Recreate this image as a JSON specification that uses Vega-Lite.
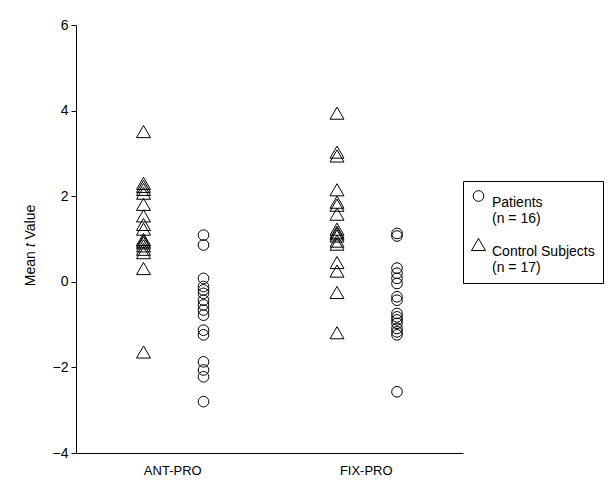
{
  "$schema": "https://vega.github.io/schema/vega-lite/v6.json",
  "width": 387,
  "height": 428,
  "autosize": "none",
  "padding": {"left": 76, "top": 25, "right": 152, "bottom": 30},
  "background": "white",
  "config": {
    "view": {"stroke": null},
    "font": "Liberation Sans, Arial, sans-serif",
    "axis": {"grid": false, "domainColor": "black", "tickColor": "black", "labelColor": "black", "titleColor": "black", "labelFont": "Liberation Sans, Arial, sans-serif", "titleFont": "Liberation Sans, Arial, sans-serif", "labelFontSize": 14, "titleFontSize": 14, "titleFontWeight": "normal"}
  },
  "data": {
    "values": [
      {"task": "ANT-PRO", "group": "Control Subjects", "t": 3.51},
      {"task": "ANT-PRO", "group": "Control Subjects", "t": 2.30},
      {"task": "ANT-PRO", "group": "Control Subjects", "t": 2.23},
      {"task": "ANT-PRO", "group": "Control Subjects", "t": 2.16},
      {"task": "ANT-PRO", "group": "Control Subjects", "t": 2.07},
      {"task": "ANT-PRO", "group": "Control Subjects", "t": 1.81},
      {"task": "ANT-PRO", "group": "Control Subjects", "t": 1.54},
      {"task": "ANT-PRO", "group": "Control Subjects", "t": 1.34},
      {"task": "ANT-PRO", "group": "Control Subjects", "t": 1.23},
      {"task": "ANT-PRO", "group": "Control Subjects", "t": 0.99},
      {"task": "ANT-PRO", "group": "Control Subjects", "t": 0.95},
      {"task": "ANT-PRO", "group": "Control Subjects", "t": 0.91},
      {"task": "ANT-PRO", "group": "Control Subjects", "t": 0.84},
      {"task": "ANT-PRO", "group": "Control Subjects", "t": 0.76},
      {"task": "ANT-PRO", "group": "Control Subjects", "t": 0.68},
      {"task": "ANT-PRO", "group": "Control Subjects", "t": 0.31},
      {"task": "ANT-PRO", "group": "Control Subjects", "t": -1.64},
      {"task": "ANT-PRO", "group": "Patients", "t": 1.09},
      {"task": "ANT-PRO", "group": "Patients", "t": 0.86},
      {"task": "ANT-PRO", "group": "Patients", "t": 0.08},
      {"task": "ANT-PRO", "group": "Patients", "t": -0.11},
      {"task": "ANT-PRO", "group": "Patients", "t": -0.19},
      {"task": "ANT-PRO", "group": "Patients", "t": -0.27},
      {"task": "ANT-PRO", "group": "Patients", "t": -0.43},
      {"task": "ANT-PRO", "group": "Patients", "t": -0.54},
      {"task": "ANT-PRO", "group": "Patients", "t": -0.66},
      {"task": "ANT-PRO", "group": "Patients", "t": -0.78},
      {"task": "ANT-PRO", "group": "Patients", "t": -1.13},
      {"task": "ANT-PRO", "group": "Patients", "t": -1.24},
      {"task": "ANT-PRO", "group": "Patients", "t": -1.87},
      {"task": "ANT-PRO", "group": "Patients", "t": -2.06},
      {"task": "ANT-PRO", "group": "Patients", "t": -2.22},
      {"task": "ANT-PRO", "group": "Patients", "t": -2.80},
      {"task": "FIX-PRO", "group": "Control Subjects", "t": 3.94},
      {"task": "FIX-PRO", "group": "Control Subjects", "t": 3.03},
      {"task": "FIX-PRO", "group": "Control Subjects", "t": 2.94},
      {"task": "FIX-PRO", "group": "Control Subjects", "t": 2.15},
      {"task": "FIX-PRO", "group": "Control Subjects", "t": 1.86},
      {"task": "FIX-PRO", "group": "Control Subjects", "t": 1.79},
      {"task": "FIX-PRO", "group": "Control Subjects", "t": 1.58},
      {"task": "FIX-PRO", "group": "Control Subjects", "t": 1.23},
      {"task": "FIX-PRO", "group": "Control Subjects", "t": 1.16},
      {"task": "FIX-PRO", "group": "Control Subjects", "t": 1.12},
      {"task": "FIX-PRO", "group": "Control Subjects", "t": 1.07},
      {"task": "FIX-PRO", "group": "Control Subjects", "t": 0.95},
      {"task": "FIX-PRO", "group": "Control Subjects", "t": 0.88},
      {"task": "FIX-PRO", "group": "Control Subjects", "t": 0.45},
      {"task": "FIX-PRO", "group": "Control Subjects", "t": 0.25},
      {"task": "FIX-PRO", "group": "Control Subjects", "t": -0.25},
      {"task": "FIX-PRO", "group": "Control Subjects", "t": -1.19},
      {"task": "FIX-PRO", "group": "Patients", "t": 1.13},
      {"task": "FIX-PRO", "group": "Patients", "t": 1.07},
      {"task": "FIX-PRO", "group": "Patients", "t": 0.32},
      {"task": "FIX-PRO", "group": "Patients", "t": 0.20},
      {"task": "FIX-PRO", "group": "Patients", "t": 0.08},
      {"task": "FIX-PRO", "group": "Patients", "t": -0.04},
      {"task": "FIX-PRO", "group": "Patients", "t": -0.35},
      {"task": "FIX-PRO", "group": "Patients", "t": -0.43},
      {"task": "FIX-PRO", "group": "Patients", "t": -0.74},
      {"task": "FIX-PRO", "group": "Patients", "t": -0.82},
      {"task": "FIX-PRO", "group": "Patients", "t": -0.89},
      {"task": "FIX-PRO", "group": "Patients", "t": -0.97},
      {"task": "FIX-PRO", "group": "Patients", "t": -1.09},
      {"task": "FIX-PRO", "group": "Patients", "t": -1.17},
      {"task": "FIX-PRO", "group": "Patients", "t": -1.24},
      {"task": "FIX-PRO", "group": "Patients", "t": -2.57}
    ]
  },
  "mark": {"type": "point", "filled": false, "stroke": "black", "strokeWidth": 1, "opacity": 1},
  "encoding": {
    "x": {
      "field": "task", "type": "nominal",
      "scale": {"domain": ["ANT-PRO", "FIX-PRO"], "paddingInner": 0, "paddingOuter": 0},
      "axis": {"title": null, "ticks": false, "tickSize": 0, "labelAngle": 0, "labelPadding": 11, "labelFontSize": 13, "domainWidth": 1}
    },
    "xOffset": {
      "field": "group", "type": "nominal",
      "scale": {"domain": ["Control Subjects", "Patients"], "range": [67.5, 127.5], "paddingInner": 0, "paddingOuter": 0}
    },
    "y": {
      "field": "t", "type": "quantitative",
      "scale": {"domain": [-4, 6], "nice": false, "zero": false},
      "axis": {"title": "Mean 𝑡 Value", "values": [-4, -2, 0, 2, 4, 6], "tickSize": 5, "labelPadding": 3, "titleX": -39, "titleY": 220, "titleBaseline": "bottom", "domainWidth": 1}
    },
    "shape": {
      "field": "group", "type": "nominal",
      "scale": {"domain": ["Patients", "Control Subjects"], "range": ["circle", "triangle-up"]},
      "legend": {
        "title": null,
        "orient": "none",
        "legendX": 387,
        "legendY": 156,
        "strokeColor": "black",
        "padding": 8,
        "labelFontSize": 14,
        "labelFont": "Liberation Sans, Arial, sans-serif",
        "labelColor": "black",
        "labelBaseline": "top",
        "labelOffset": 6,
        "symbolStrokeColor": "black",
        "symbolFillColor": "transparent",
        "symbolStrokeWidth": 1,
        "rowPadding": 10,
        "labelExpr": "datum.label == 'Patients' ? ['Patients', '(n = 16)'] : ['Control Subjects', '(n = 17)']"
      }
    },
    "size": {
      "field": "group", "type": "nominal",
      "scale": {"domain": ["Patients", "Control Subjects"], "range": [113, 196]}
    }
  }
}
